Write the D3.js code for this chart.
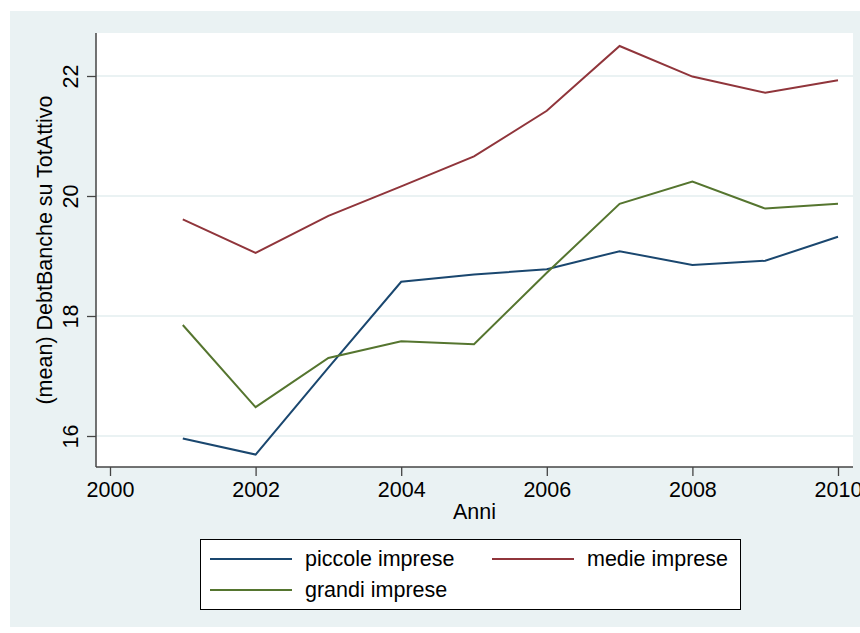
<!DOCTYPE html>
<html>
<head>
<meta charset="utf-8">
<script src="https://cdn.jsdelivr.net/npm/d3@7"></script>
<style>
  html, body { margin: 0; padding: 0; background: #ffffff; }
  svg { display: block; font-family: "Liberation Sans", Arial, Helvetica, sans-serif; }
</style>
</head>
<body>
<svg id="chart" width="860" height="633"></svg>
<script>
// Mean bank debt over total assets, by firm size class, 2001-2010
const years = [2001, 2002, 2003, 2004, 2005, 2006, 2007, 2008, 2009, 2010];
const piccole = [15.96, 15.69, 17.14, 18.57, 18.69, 18.78, 19.08, 18.85, 18.92, 19.32];
const medie   = [19.61, 19.05, 19.67, 20.16, 20.66, 21.42, 22.50, 21.99, 21.72, 21.93];
const grandi  = [17.85, 16.48, 17.30, 17.58, 17.53, 18.72, 19.87, 20.24, 19.79, 19.87];
const seriesNames = ["piccole imprese", "medie imprese", "grandi imprese"];
const xTicks = [2000, 2002, 2004, 2006, 2008, 2010];
const yTicks = [16, 18, 20, 22];
const xTitle = "Anni";
const yTitle = "(mean) DebtBanche su TotAttivo";

const colors = ["#1a476f", "#90353b", "#55752f"];
const bg = "#eaf2f3";
const axisColor = "#444444";

const svg = d3.select("#chart");

// outer graph region
svg.append("rect").attr("x", 10).attr("y", 11).attr("width", 850).attr("height", 616).attr("fill", bg);

// plot region
const plot = { left: 96, right: 853, top: 33, bottom: 467 };
svg.append("rect")
  .attr("x", plot.left).attr("y", plot.top)
  .attr("width", plot.right - plot.left).attr("height", plot.bottom - plot.top)
  .attr("fill", "#ffffff");

const x = d3.scaleLinear().domain([2000, 2010]).range([110, 838]);
const y = d3.scaleLinear().domain([16, 22]).range([436, 76]);

// horizontal grid
svg.append("g").selectAll("line").data(yTicks).join("line")
  .attr("x1", plot.left).attr("x2", plot.right)
  .attr("y1", d => y(d)).attr("y2", d => y(d))
  .attr("stroke", bg).attr("stroke-width", 2);

// series lines
const series = [piccole, medie, grandi];
const line = d3.line().x((d, i) => x(years[i])).y(d => y(d));
svg.append("g").selectAll("path").data(series).join("path")
  .attr("d", d => line(d))
  .attr("fill", "none")
  .attr("stroke", (d, i) => colors[i])
  .attr("stroke-width", 2)
  .attr("stroke-linejoin", "miter");

// y axis
const yAxis = svg.append("g").attr("transform", `translate(${plot.left},0)`)
  .call(d3.axisLeft(y).tickValues(yTicks).tickSize(9).tickFormat(d3.format("d")));
yAxis.select(".domain").remove();
yAxis.selectAll(".tick line").attr("stroke", axisColor).attr("stroke-width", 1.3);
yAxis.selectAll(".tick text")
  .attr("x", null).attr("dy", null)
  .attr("transform", "translate(-18,0) rotate(-90)")
  .attr("text-anchor", "middle")
  .attr("font-size", 21.5)
  .attr("font-family", "Liberation Sans, Arial, sans-serif")
  .attr("fill", "#000");
svg.append("line")
  .attr("x1", plot.left).attr("x2", plot.left)
  .attr("y1", plot.top).attr("y2", plot.bottom)
  .attr("stroke", axisColor).attr("stroke-width", 1.5);

// x axis
const xAxis = svg.append("g").attr("transform", `translate(0,${plot.bottom})`)
  .call(d3.axisBottom(x).tickValues(xTicks).tickSize(9).tickFormat(d3.format("d")));
xAxis.select(".domain").remove();
xAxis.selectAll(".tick line").attr("stroke", axisColor).attr("stroke-width", 1.3);
xAxis.selectAll(".tick text")
  .attr("y", 30).attr("dy", null)
  .attr("font-size", 21.5)
  .attr("font-family", "Liberation Sans, Arial, sans-serif")
  .attr("fill", "#000");
svg.append("line")
  .attr("x1", plot.left).attr("x2", plot.right)
  .attr("y1", plot.bottom).attr("y2", plot.bottom)
  .attr("stroke", axisColor).attr("stroke-width", 1.5);

// axis titles
svg.append("text")
  .attr("x", (plot.left + plot.right) / 2).attr("y", 519)
  .attr("text-anchor", "middle").attr("font-size", 21.5).attr("fill", "#000")
  .text(xTitle);
svg.append("text")
  .attr("transform", `translate(52,${(plot.top + plot.bottom) / 2}) rotate(-90)`)
  .attr("text-anchor", "middle").attr("font-size", 21.5).attr("fill", "#000")
  .text(yTitle);

// legend
const legend = svg.append("g");
legend.append("rect")
  .attr("x", 200.5).attr("y", 539.5).attr("width", 540).attr("height", 70)
  .attr("fill", "#ffffff").attr("stroke", "#000").attr("stroke-width", 1);
const legendPos = [
  { lx: 210, ty: 559 },
  { lx: 492, ty: 559 },
  { lx: 210, ty: 590 }
];
legendPos.forEach((p, i) => {
  legend.append("line")
    .attr("x1", p.lx).attr("x2", p.lx + 82)
    .attr("y1", p.ty).attr("y2", p.ty)
    .attr("stroke", colors[i]).attr("stroke-width", 2);
  legend.append("text")
    .attr("x", p.lx + 95).attr("y", p.ty + 7)
    .attr("font-size", 21.5).attr("fill", "#000")
    .text(seriesNames[i]);
});
</script>
</body>
</html>
